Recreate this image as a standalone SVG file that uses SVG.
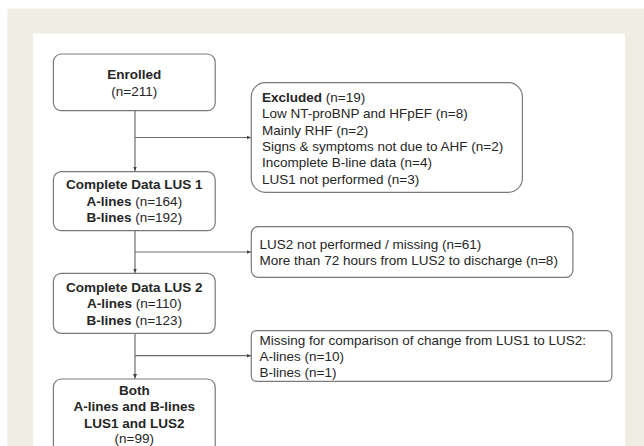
<svg xmlns="http://www.w3.org/2000/svg" width="644" height="446" viewBox="0 0 644 446">
<defs>
<style>
.box{fill:#ffffff;stroke:#7a7a7a;stroke-width:1.2}
.t{font-family:"Liberation Sans",Arial,sans-serif;font-size:13.5px;fill:#262626}
.c{text-anchor:middle}
.b{font-weight:bold}
.ln{stroke:#6e6e6e;stroke-width:1.2;fill:none}
</style>
<marker id="ah" markerWidth="5" markerHeight="5" refX="4.5" refY="2.5" orient="auto" markerUnits="userSpaceOnUse">
<path d="M0,0.5 L4.5,2.5 L0,4.5 Z" fill="#444"/>
</marker>
</defs>
<rect x="0" y="0" width="644" height="446" fill="#ffffff"/>
<rect x="7.5" y="8.5" width="636.5" height="437.5" fill="#eeeee4"/>
<rect x="33" y="33.5" width="592" height="420" fill="#ffffff"/>
<g id="connectors">
<line class="ln" x1="135" y1="110.7" x2="135" y2="171" marker-end="url(#ah)"/>
<line class="ln" x1="135" y1="137.5" x2="251" y2="137.5" marker-end="url(#ah)"/>
<line class="ln" x1="135" y1="230.7" x2="135" y2="273" marker-end="url(#ah)"/>
<line class="ln" x1="135" y1="252" x2="251" y2="252" marker-end="url(#ah)"/>
<line class="ln" x1="135" y1="333.3" x2="135" y2="378.5" marker-end="url(#ah)"/>
<line class="ln" x1="135" y1="355.7" x2="251" y2="355.7" marker-end="url(#ah)"/>
</g>
<g id="enrolled">
<rect class="box" x="53.4" y="54" width="161.8" height="56.7" rx="8"/>
<text class="t c b" x="134.3" y="78.8">Enrolled</text>
<text class="t c" x="134.3" y="95.5">(n=211)</text>
</g>
<g id="excluded">
<rect class="box" x="251.3" y="82.7" width="271.1" height="109.6" rx="14"/>
<text class="t" x="262" y="102"><tspan class="b">Excluded</tspan> (n=19)</text>
<text class="t" x="262" y="118.3">Low NT-proBNP and HFpEF (n=8)</text>
<text class="t" x="262" y="134.6">Mainly RHF (n=2)</text>
<text class="t" x="262" y="150.9">Signs &amp; symptoms not due to AHF (n=2)</text>
<text class="t" x="262" y="167.2">Incomplete B-line data (n=4)</text>
<text class="t" x="262" y="183.5">LUS1 not performed (n=3)</text>
</g>
<g id="lus1">
<rect class="box" x="53.4" y="171.7" width="161.8" height="59" rx="8"/>
<text class="t c b" x="134.3" y="189">Complete Data LUS 1</text>
<text class="t c" x="134.3" y="205.8"><tspan class="b">A-lines</tspan> (n=164)</text>
<text class="t c" x="134.3" y="222"><tspan class="b">B-lines</tspan> (n=192)</text>
</g>
<g id="lus2missing">
<rect class="box" x="251.3" y="226.7" width="321.6" height="50.6" rx="7"/>
<text class="t" x="259.6" y="248.8">LUS2 not performed / missing (n=61)</text>
<text class="t" x="259.6" y="264.8">More than 72 hours from LUS2 to discharge (n=8)</text>
</g>
<g id="lus2">
<rect class="box" x="53.4" y="273.3" width="161.8" height="60" rx="8"/>
<text class="t c b" x="134.3" y="291.5">Complete Data LUS 2</text>
<text class="t c" x="134.3" y="308"><tspan class="b">A-lines</tspan> (n=110)</text>
<text class="t c" x="134.3" y="324.8"><tspan class="b">B-lines</tspan> (n=123)</text>
</g>
<g id="missing">
<rect class="box" x="251.3" y="330.7" width="360.6" height="50.6" rx="5"/>
<text class="t" x="259.6" y="344.8">Missing for comparison of change from LUS1 to LUS2:</text>
<text class="t" x="259.6" y="360.8">A-lines (n=10)</text>
<text class="t" x="259.6" y="376.8">B-lines (n=1)</text>
</g>
<g id="both">
<rect class="box" x="53.4" y="379" width="161.8" height="75" rx="8"/>
<text class="t c b" x="134.3" y="394.8">Both</text>
<text class="t c b" x="134.3" y="410.8">A-lines and B-lines</text>
<text class="t c b" x="134.3" y="427.5">LUS1 and LUS2</text>
<text class="t c" x="134.3" y="443">(n=99)</text>
</g>
</svg>
